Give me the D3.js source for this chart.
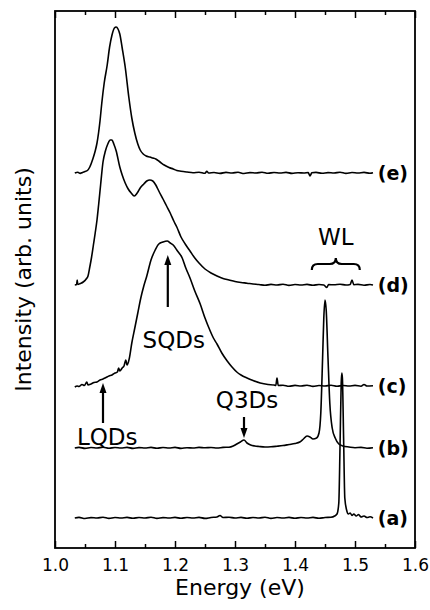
<!DOCTYPE html>
<html>
<head>
<meta charset="utf-8">
<script src="https://cdn.jsdelivr.net/npm/d3@7"></script>
<style>
  body { margin: 0; background: #fff; }
  text { font-family: "DejaVu Sans", sans-serif; fill: #000; }
</style>
</head>
<body>
<div id="app"></div>
<script>
// spectra: [energy (eV), intensity above own baseline (arb. units)]
const curveA = [[1.033,0],[1.04,0.6],[1.05,-0.5],[1.06,0.4],[1.07,0],[1.08,0.7],[1.09,-0.4],[1.1,0.5],[1.11,0],[1.12,0.6],[1.13,-0.3],[1.14,0.5],[1.15,0],[1.16,0.7],[1.17,-0.4],[1.18,0.4],[1.19,0],[1.2,0.6],[1.21,-0.3],[1.22,0.5],[1.23,0],[1.24,0.6],[1.25,-0.4],[1.26,0.5],[1.27,1],[1.275,2.5],[1.28,0.5],[1.29,0.8],[1.3,0],[1.31,0.6],[1.32,-0.3],[1.33,0.5],[1.34,0],[1.35,0.7],[1.36,-0.4],[1.37,0.5],[1.38,0],[1.39,0.6],[1.4,-0.3],[1.41,0.5],[1.42,0],[1.43,0.6],[1.44,-0.3],[1.45,0.5],[1.46,0.8],[1.466,2],[1.47,4],[1.473,15],[1.475,70],[1.477,135],[1.478,145],[1.479,140],[1.481,80],[1.483,20],[1.486,8],[1.489,4],[1.492,5],[1.495,2.5],[1.498,4],[1.502,2],[1.506,3.5],[1.51,1],[1.515,2],[1.52,0.5],[1.525,1.2],[1.53,0]];

const curveB = [[1.033,0],[1.04,0.6],[1.05,-0.4],[1.06,0.5],[1.07,0],[1.08,0.7],[1.09,-0.3],[1.1,0.5],[1.11,0],[1.12,0.6],[1.13,-0.4],[1.14,0.4],[1.15,0],[1.16,0.6],[1.17,-0.3],[1.18,0.5],[1.19,0],[1.2,0.6],[1.21,-0.4],[1.22,0.3],[1.23,0],[1.24,0.6],[1.25,0.2],[1.26,0.5],[1.27,0],[1.28,0.6],[1.29,0.8],[1.297,2],[1.303,4],[1.309,6],[1.315,8],[1.32,5],[1.326,3],[1.333,2],[1.34,1.5],[1.35,1],[1.36,1.2],[1.37,1.8],[1.38,2.5],[1.39,3.5],[1.4,4.5],[1.408,6],[1.414,9],[1.42,12],[1.425,11],[1.43,9],[1.436,10],[1.44,15],[1.443,35],[1.446,90],[1.448,130],[1.45,148],[1.452,138],[1.455,90],[1.458,45],[1.462,20],[1.467,10],[1.473,4],[1.48,2],[1.49,1],[1.5,0.3],[1.51,0.6],[1.52,-0.2],[1.53,0.3]];

const curveC = [[1.033,-1],[1.037,0],[1.04,-0.5],[1.045,1.5],[1.049,0.5],[1.053,4],[1.055,1],[1.06,2],[1.065,3.5],[1.07,4],[1.075,6],[1.08,7],[1.085,8.5],[1.09,10],[1.095,11],[1.1,13],[1.104,14],[1.106,18],[1.108,15],[1.112,18],[1.115,20],[1.118,26],[1.12,21],[1.124,28],[1.128,43],[1.133,58],[1.138,73],[1.143,88],[1.148,100],[1.153,110],[1.16,126],[1.167,136],[1.173,142],[1.18,144],[1.187,145],[1.192,143],[1.197,141],[1.203,136],[1.212,128],[1.218,118],[1.225,108],[1.233,95],[1.242,82],[1.25,68],[1.258,56],[1.264,48],[1.27,42],[1.278,33],[1.287,25],[1.295,19],[1.303,14],[1.31,11],[1.32,8],[1.33,5.5],[1.342,3],[1.355,1.5],[1.365,1],[1.368,0.5],[1.37,8],[1.372,0.5],[1.38,0.8],[1.39,-0.3],[1.4,0.6],[1.41,0],[1.42,0.7],[1.43,-0.4],[1.44,0.5],[1.45,0],[1.46,0.7],[1.47,-0.3],[1.48,0.5],[1.49,0],[1.5,0.6],[1.51,-0.2],[1.515,1.5],[1.52,0],[1.53,0.3]];

const curveD = [[1.033,0],[1.036,0.5],[1.037,5],[1.038,0.5],[1.042,1.5],[1.047,3],[1.052,6],[1.055,9],[1.058,18],[1.061,28],[1.064,40],[1.067,52],[1.07,65],[1.073,82],[1.076,100],[1.08,123],[1.084,134],[1.088,141],[1.092,145],[1.095,145],[1.098,141],[1.102,134],[1.108,118],[1.112,110],[1.117,102],[1.122,96],[1.127,92],[1.132,89],[1.137,92],[1.142,97],[1.148,101],[1.153,104],[1.158,105],[1.163,104],[1.168,100],[1.173,94],[1.18,86],[1.186,79],[1.192,72],[1.198,64],[1.203,58],[1.21,48],[1.217,41],[1.225,34],[1.233,27],[1.24,22],[1.25,16],[1.26,12],[1.27,9],[1.28,6.5],[1.29,5],[1.3,3.5],[1.31,2.5],[1.32,1.8],[1.33,1],[1.34,0.5],[1.35,-0.3],[1.36,0.6],[1.37,0],[1.38,0.7],[1.39,-0.4],[1.4,0.5],[1.41,0],[1.42,0.6],[1.43,-0.3],[1.44,0.5],[1.448,0],[1.453,-2.5],[1.456,0.4],[1.465,0.2],[1.475,0.8],[1.485,0],[1.492,0.6],[1.495,5],[1.498,0.3],[1.505,0.6],[1.515,-0.2],[1.525,0.5],[1.53,0]];

const curveE = [[1.033,0],[1.038,0.8],[1.042,-0.4],[1.046,0.6],[1.05,1.5],[1.054,2.5],[1.058,6],[1.063,14],[1.067,22],[1.07,30],[1.075,52],[1.078,70],[1.082,90],[1.087,108],[1.091,126],[1.095,138],[1.099,145],[1.102,146],[1.105,144],[1.108,139],[1.112,125],[1.117,106],[1.123,76],[1.128,55],[1.133,40],[1.138,29],[1.142,23],[1.147,19],[1.152,17],[1.158,16],[1.163,15],[1.168,14],[1.175,11],[1.182,8],[1.19,5.5],[1.197,4],[1.203,2.5],[1.21,1.8],[1.22,1],[1.23,0.3],[1.24,0.8],[1.25,-0.3],[1.253,1.8],[1.256,0],[1.265,0.5],[1.275,-0.4],[1.285,0.6],[1.295,0],[1.305,0.7],[1.315,-0.5],[1.325,0.4],[1.335,0],[1.345,0.8],[1.355,-0.3],[1.365,0.5],[1.375,0],[1.385,0.6],[1.395,-0.4],[1.405,0.3],[1.415,0],[1.422,0.5],[1.425,-3],[1.428,0.2],[1.435,0.6],[1.445,-0.3],[1.455,0.4],[1.465,0],[1.475,0.7],[1.485,-0.4],[1.495,0.5],[1.505,0],[1.515,0.6],[1.525,-0.3],[1.53,0.2]];

const curveNames = ["(a)", "(b)", "(c)", "(d)", "(e)"];
const curveOffsets = [30, 100, 162, 263, 375];
const curves = [curveA, curveB, curveC, curveD, curveE];

const majorTicks = [1.0, 1.1, 1.2, 1.3, 1.4, 1.5, 1.6];
const minorTicks = [1.05, 1.15, 1.25, 1.35, 1.45, 1.55];

const W = 430, H = 610;
const margin = {top: 11, right: 15, bottom: 62, left: 55};

const svg = d3.select("#app")
    .append("svg")
    .attr("width", W)
    .attr("height", H);

const x = d3.scaleLinear()
    .domain([1.0, 1.6])
    .range([margin.left, W - margin.right]);

const y = d3.scaleLinear()
    .domain([0, 537])
    .range([H - margin.bottom, margin.top]);

// axes, ticks pointing inward
const fmt = d3.format(".1f");

svg.append("g")
    .attr("transform", `translate(0,${H - margin.bottom})`)
    .call(d3.axisBottom(x).tickValues(majorTicks).tickSize(-7).tickPadding(11).tickFormat(fmt))
    .call(g => g.select(".domain").remove())
    .call(g => g.selectAll("text").attr("font-size", 17).attr("font-family", "DejaVu Sans"));

svg.append("g")
    .attr("transform", `translate(0,${H - margin.bottom})`)
    .call(d3.axisBottom(x).tickValues(minorTicks).tickSize(-4).tickFormat(""))
    .call(g => g.select(".domain").remove());

svg.append("g")
    .attr("transform", `translate(0,${margin.top})`)
    .call(d3.axisTop(x).tickValues(majorTicks).tickSize(-7).tickFormat(""))
    .call(g => g.select(".domain").remove());

svg.append("g")
    .attr("transform", `translate(0,${margin.top})`)
    .call(d3.axisTop(x).tickValues(minorTicks).tickSize(-4).tickFormat(""))
    .call(g => g.select(".domain").remove());

svg.selectAll(".tick line")
    .attr("stroke", "#000")
    .attr("stroke-width", 1.5);

svg.append("rect")
    .attr("x", margin.left)
    .attr("y", margin.top)
    .attr("width", W - margin.left - margin.right)
    .attr("height", H - margin.top - margin.bottom)
    .attr("fill", "none")
    .attr("stroke", "#000")
    .attr("stroke-width", 1.8);

// spectra
const line = d3.line()
    .x(d => x(d[0]))
    .y(d => y(d[1]))
    .curve(d3.curveMonotoneX);

svg.append("g")
    .selectAll("path")
    .data(curves)
    .join("path")
    .attr("d", (d, i) => line(d.map(p => [p[0], p[1] + curveOffsets[i]])))
    .attr("fill", "none")
    .attr("stroke", "#000")
    .attr("stroke-width", 1.6)
    .attr("stroke-linejoin", "round");

svg.append("g")
    .selectAll("text")
    .data(curveNames)
    .join("text")
    .attr("x", x(1.538))
    .attr("y", (d, i) => y(curveOffsets[i]))
    .attr("dy", "0.36em")
    .attr("font-size", 19)
    .attr("font-weight", "bold")
    .text(d => d);

// axis titles
svg.append("text")
    .attr("x", (margin.left + W - margin.right) / 2 + 5)
    .attr("y", 595)
    .attr("text-anchor", "middle")
    .attr("font-size", 22)
    .text("Energy (eV)");

svg.append("text")
    .attr("transform", `translate(31,${(margin.top + H - margin.bottom) / 2}) rotate(-90)`)
    .attr("text-anchor", "middle")
    .attr("font-size", 22)
    .text("Intensity (arb. units)");

// annotations
function arrow(e, from, to) {
    const x0 = x(e), y0 = y(from), y1 = y(to);
    const dir = y1 < y0 ? 1 : -1;
    svg.append("line")
        .attr("x1", x0).attr("x2", x0)
        .attr("y1", y0).attr("y2", y1 + dir * 8)
        .attr("stroke", "#000")
        .attr("stroke-width", 2.2);
    svg.append("path")
        .attr("d", `M${x0},${y1} L${x0 - 3.5},${y1 + dir * 10} L${x0 + 3.5},${y1 + dir * 10} Z`)
        .attr("fill", "#000");
}

function label(txt, e, v) {
    svg.append("text")
        .attr("x", x(e))
        .attr("y", y(v))
        .attr("text-anchor", "middle")
        .attr("font-size", 23)
        .text(txt);
}

arrow(1.188, 241, 293);
label("SQDs", 1.198, 200);

arrow(1.08, 125, 165);
label("LQDs", 1.087, 103);

arrow(1.315, 131, 110);
label("Q3Ds", 1.32, 140);

label("WL", 1.468, 303);

// curly brace over the wetting layer range
const bx0 = x(1.428), bx1 = x(1.508), bxm = (bx0 + bx1) / 2;
const byb = y(278), byt = y(290), bym = (byb + byt) / 2;
svg.append("path")
    .attr("d", `M${bx0},${byb} Q${bx0},${bym} ${bx0 + 6},${bym} L${bxm - 6},${bym} Q${bxm},${bym} ${bxm},${byt}
                Q${bxm},${bym} ${bxm + 6},${bym} L${bx1 - 6},${bym} Q${bx1},${bym} ${bx1},${byb}`)
    .attr("fill", "none")
    .attr("stroke", "#000")
    .attr("stroke-width", 2.2);
</script>
</body>
</html>
